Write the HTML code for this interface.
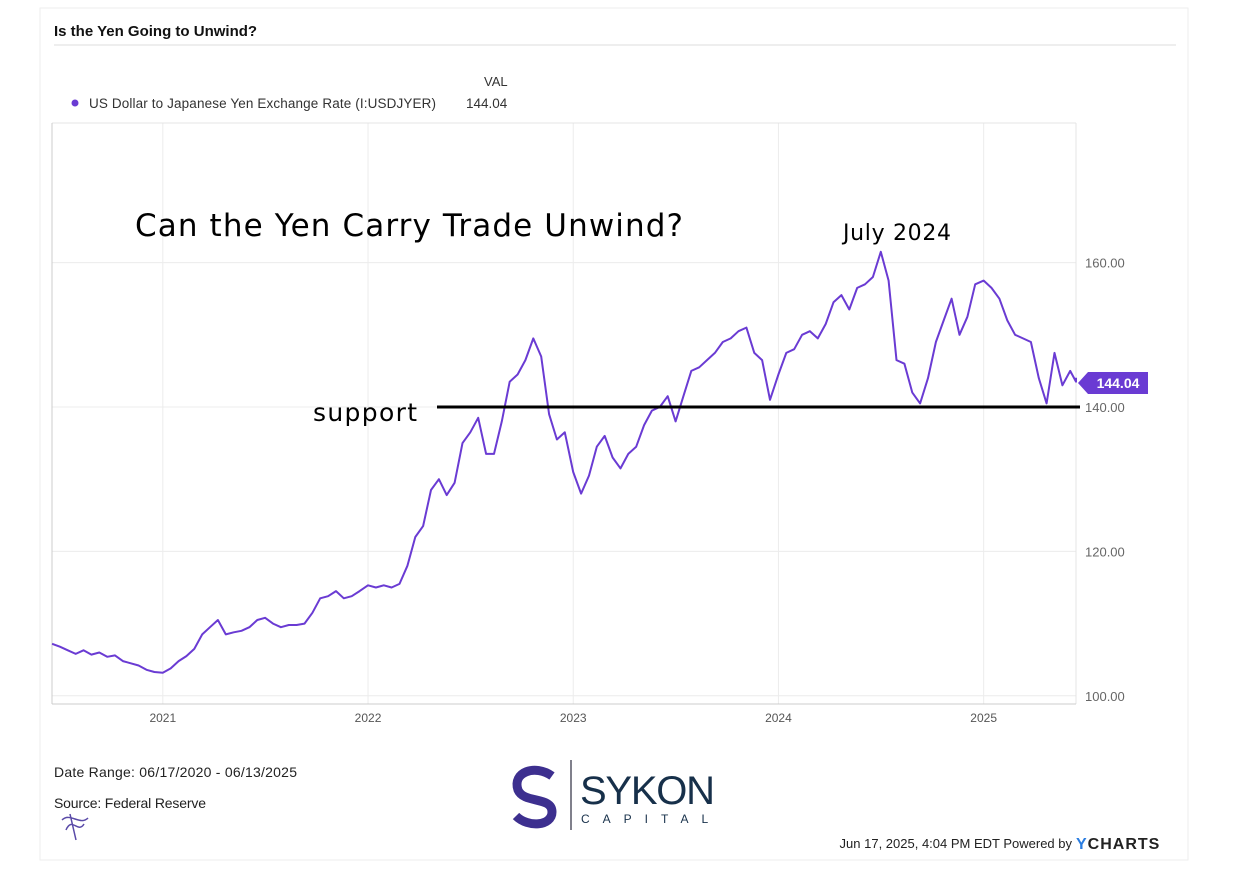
<!DOCTYPE html>
<html><head><meta charset="utf-8"><style>
body{margin:0;background:#fff;font-family:"Liberation Sans",sans-serif;}
svg{display:block}
</style></head><body>
<svg width="1248" height="869" viewBox="0 0 1248 869" xmlns="http://www.w3.org/2000/svg">
<rect x="40" y="8" width="1148" height="852" fill="#fff" stroke="#eee"/>
<text x="54" y="36" font-size="15" font-weight="bold" fill="#111">Is the Yen Going to Unwind?</text>
<line x1="54" y1="45" x2="1176" y2="45" stroke="#ddd"/>
<text x="484" y="86" font-size="13" fill="#333">VAL</text>
<circle cx="75" cy="103" r="3.5" fill="#6a3bd3"/>
<text x="89" y="108" font-size="13.5" fill="#333" textLength="347">US Dollar to Japanese Yen Exchange Rate (I:USDJYER)</text>
<text x="466" y="108" font-size="13.5" fill="#333">144.04</text>
<g id="grid"></g>
<line x1="52" y1="123" x2="1076" y2="123" stroke="#e4e4e4"/>
<line x1="52" y1="123" x2="52" y2="704" stroke="#ccc"/>
<line x1="1076" y1="123" x2="1076" y2="704" stroke="#e4e4e4"/>
<line x1="52" y1="704" x2="1076" y2="704" stroke="#ccc"/>
<g id="xt"></g>
<g id="yt"></g>
<path id="series" fill="none" stroke="#6a3bd3" stroke-width="2" stroke-linejoin="round"/>
<line x1="437" y1="407" x2="1080" y2="407" stroke="#000" stroke-width="3"/>
<text x="313" y="421" font-family="'DejaVu Sans',sans-serif" font-size="25" textLength="104" fill="#000">support</text>
<text x="135" y="236" font-family="'DejaVu Sans',sans-serif" font-size="31" textLength="548" fill="#000">Can the Yen Carry Trade Unwind?</text>
<text x="843" y="240" font-family="'DejaVu Sans',sans-serif" font-size="22" textLength="108" fill="#000">July 2024</text>
<g>
<polygon points="1078,383 1088,372 1148,372 1148,394 1088,394" fill="#6a3bd3"/>
<text x="1118" y="388" font-size="14" font-weight="bold" fill="#fff" text-anchor="middle">144.04</text>
</g>
<text x="54" y="777" font-size="14" textLength="243" fill="#222">Date Range: 06/17/2020 - 06/13/2025</text>
<text x="54" y="808" font-size="14" textLength="152" fill="#222">Source: Federal Reserve</text>
<g stroke="#5a4aa8" fill="none" stroke-width="1.5">
<path d="M62 820 C70 812 80 826 88 818 M66 830 C72 816 78 834 84 824 M70 814 L76 840"/>
</g>
<g>
<path d="M552 776 C535 764 512 772 518 790 C524 804 552 796 552 812 C552 826 528 828 516 816" fill="none" stroke="#3d2f8f" stroke-width="9"/>
<line x1="571" y1="760" x2="571" y2="830" stroke="#556" stroke-width="1.5"/>
<text x="580" y="804" font-size="40" textLength="135" fill="#17304a">SYKON</text>
<text x="581" y="823" font-size="12" fill="#17304a" letter-spacing="13">CAPITAL</text>
</g>
<text x="1072" y="848" font-size="13" fill="#222" text-anchor="end">Jun 17, 2025, 4:04 PM EDT Powered by</text>
<text x="1076" y="849" font-size="16" font-weight="bold" fill="#222" letter-spacing="1"><tspan fill="#2a7de1">Y</tspan>CHARTS</text>
</svg>
<script>
const yTicks=[100,120,140,160];
const yTickLabels=["100.00","120.00","140.00","160.00"];
const xTicks=[2021,2022,2023,2024,2025];
const xTickLabels=["2021","2022","2023","2024","2025"];
const startYear=2020.46, endYear=2025.45;
const v2020=[107.2,106.8,106.3,105.8,106.3,105.7,106.0,105.4,105.6,104.8,104.5,104.2,103.6,103.3];
const v2021=[103.2,103.8,104.8,105.5,106.5,108.5,109.5,110.5,108.5,108.8,109.0,109.5,110.5,110.8,110.0,109.5,109.8,109.8,110.0,111.5,113.5,113.8,114.5,113.5,113.8,114.5];
const v2022=[115.3,115.0,115.3,115.0,115.5,118.0,122.0,123.5,128.5,130.0,127.8,129.5,135.0,136.5,138.5,133.5,133.5,138.0,143.5,144.5,146.5,149.5,147.0,139.0,135.5,136.5];
const v2023=[131.0,128.0,130.5,134.5,136.0,133.0,131.5,133.5,134.5,137.5,139.5,140.0,141.5,138.0,141.5,145.0,145.5,146.5,147.5,149.0,149.5,150.5,151.0,147.5,146.5,141.0];
const v2024=[144.5,147.5,148.0,150.0,150.5,149.5,151.5,154.5,155.5,153.5,156.5,157.0,158.0,161.5,157.5,146.5,146.0,142.0,140.5,144.0,149.0,152.0,155.0,150.0,152.5,157.0];
const v2025=[157.5,156.5,155.0,152.0,150.0,149.5,149.0,144.0,140.5,147.5,143.0,145.0,143.5,144.04];
const values=[].concat(v2020,v2021,v2022,v2023,v2024,v2025);
const dates=[];
for(let y=2020;y<=2025;y++){for(let i=0;i<26;i++){const d=y+i*14/365;if(d>=startYear-0.01&&d<=endYear)dates.push(d);}}
while(dates.length<values.length)dates.push(endYear);
dates[values.length-1]=endYear;
const X=d=>52+(d-startYear)/(endYear-startYear)*1024;
const Y=v=>407-(v-140)*7.22;
const NS="http://www.w3.org/2000/svg";
const grid=document.getElementById('grid'),xt=document.getElementById('xt'),yt=document.getElementById('yt');
yTicks.forEach((t,i)=>{
 const l=document.createElementNS(NS,'line');l.setAttribute('x1',52);l.setAttribute('x2',1076);l.setAttribute('y1',Y(t));l.setAttribute('y2',Y(t));l.setAttribute('stroke','#ececec');
 
 
 grid.appendChild(l);
 const tx=document.createElementNS(NS,'text');tx.setAttribute('x',1085);tx.setAttribute('y',Y(t)+5);tx.setAttribute('font-size','13');tx.setAttribute('fill','#666');tx.textContent=yTickLabels[i];
 
 
 yt.appendChild(tx);
});
xTicks.forEach((t,i)=>{
 const l=document.createElementNS(NS,'line');l.setAttribute('x1',X(t));l.setAttribute('x2',X(t));l.setAttribute('y1',123);l.setAttribute('y2',704);l.setAttribute('stroke','#ececec');
 
 
 grid.appendChild(l);
 const tx=document.createElementNS(NS,'text');tx.setAttribute('x',X(t));tx.setAttribute('y',722);tx.setAttribute('font-size','12');tx.setAttribute('fill','#555');tx.setAttribute('text-anchor','middle');tx.textContent=xTickLabels[i];
 
 
 xt.appendChild(tx);
});
document.getElementById('series').setAttribute('d',values.map((v,i)=>(i?'L':'M')+X(dates[i]).toFixed(1)+' '+Y(v).toFixed(1)).join(' '));
</script>
</body></html>
